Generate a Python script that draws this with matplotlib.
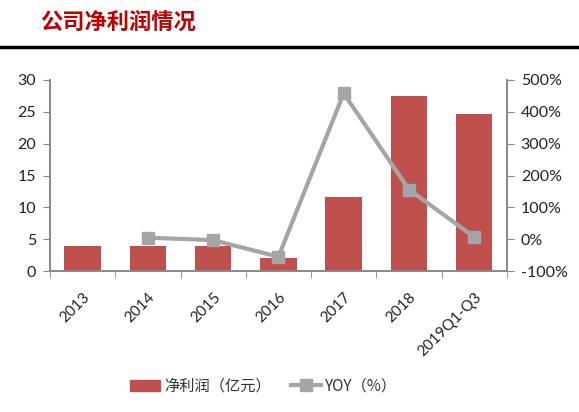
import matplotlib.pyplot as plt
from matplotlib.lines import Line2D
from matplotlib.patches import Patch
import numpy as np

plt.rcParams['font.family'] = ['Noto Sans CJK SC', 'DejaVu Sans']

categories = ['2013', '2014', '2015', '2016', '2017', '2018', '2019Q1-Q3']
net_profit = [4.0, 4.0, 4.0, 2.1, 11.6, 27.5, 24.6]
yoy = [None, 5, -3, -55, 458, 156, 7]

bar_color = '#C0504D'
line_color = '#A5A5A5'
spine_color = '#888888'

fig = plt.figure(figsize=(5.79, 4.12), dpi=100)
ax = fig.add_axes([0.0864, 0.342, 0.789, 0.464])
ax2 = ax.twinx()

x = np.arange(len(categories))
ax.bar(x, net_profit, width=0.56, color=bar_color, zorder=2)
ax.set_xlim(-0.5, len(categories) - 0.5)
ax.set_ylim(0, 30)
ax.set_yticks([0, 5, 10, 15, 20, 25, 30])

yx = [i for i, v in enumerate(yoy) if v is not None]
yv = [v for v in yoy if v is not None]
ax2.plot(yx, yv, color=line_color, lw=3, marker='s', ms=9, zorder=3)
ax2.set_ylim(-100, 500)
ax2.set_yticks([-100, 0, 100, 200, 300, 400, 500])
ax2.set_yticklabels([f'{v}%' for v in [-100, 0, 100, 200, 300, 400, 500]])

ax.set_xticks(x)
ax.set_xticklabels(categories, rotation=45, ha='right', rotation_mode='anchor')
ax.tick_params(axis='x', length=0, pad=14)
ax.set_xticks(np.arange(-0.5, len(categories), 1), minor=True)
ax.tick_params(axis='x', which='minor', length=5, color=spine_color)

for a in (ax, ax2):
    a.spines['top'].set_visible(False)
    for s in a.spines.values():
        s.set_color(spine_color)
        s.set_linewidth(1.2)
    a.tick_params(axis='y', color=spine_color, length=5, labelsize=11.5, labelcolor='#222222', pad=5)
ax.tick_params(axis='x', labelsize=11, labelcolor='#222222')
for lab in ax.get_xticklabels() + ax.get_yticklabels() + ax2.get_yticklabels():
    lab.set_family(['Lato', 'DejaVu Sans'])

fig.text(0.069, 0.945, '公司净利润情况', color='#C00000', fontsize=16,
         fontweight='bold', va='center', ha='left')
fig.add_artist(Line2D([0, 1], [0.886, 0.886], color='black', lw=2.5,
                      transform=fig.transFigure))

handles = [Patch(color=bar_color, label='净利润（亿元）'),
           Line2D([], [], color=line_color, lw=3, marker='s', ms=8, label='YOY（%）')]
fig.legend(handles=handles, loc='center', bbox_to_anchor=(0.455, 0.063), ncol=2,
           frameon=False, fontsize=11, handlelength=2.0, handletextpad=0.25,
           columnspacing=1.3, labelcolor='#333333')

fig.savefig('out.png', dpi=100)
